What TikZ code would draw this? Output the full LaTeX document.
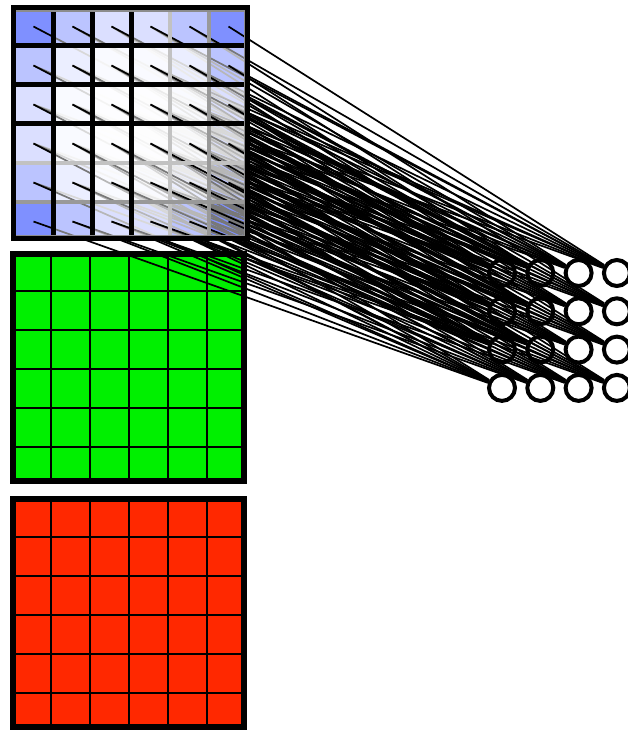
\documentclass[tikz,border=0pt]{standalone}
\begin{document}
\begin{tikzpicture}[x=1pt,y=-1pt,
  gridline/.style={black, line width=1.3pt},
  thickframe/.style={black, line width=6pt},
  neuron/.style={circle, draw=black, fill=white, line width=4pt, minimum size=26pt, inner sep=0pt},
  conn/.style={black, line width=1.7pt},
  rfpatch/.style={fill=white, fill opacity=0.47},
  sepline/.style={black, line width=5pt},
  fadedsepa/.style={black!24, line width=3.5pt},
  fadedsepb/.style={black!40, line width=3.5pt}]
\useasboundingbox (0,0) rectangle (628,730);
\definecolor{basegreen}{RGB}{0,240,0}
\definecolor{basered}{RGB}{255,40,0}
\definecolor{baseblue}{RGB}{15,46,255}

% green channel
\begin{scope}
\clip (10,251) rectangle (247,483.5);
\fill[basegreen] (12,252) rectangle (246,486);
\foreach \k in {1,...,5} {
  \draw[gridline] ({12+39*\k},252) -- ({12+39*\k},486);
  \draw[gridline] (12,{252+39*\k}) -- (246,{252+39*\k});
}
\end{scope}
\draw[thickframe] (13,254) rectangle (244,480.5);

% red channel
\begin{scope}
\clip (10,496) rectangle (247,730);
\fill[basered] (12,498) rectangle (246,732);
\foreach \k in {1,...,5} {
  \draw[gridline] ({12+39*\k},498) -- ({12+39*\k},732);
  \draw[gridline] (12,{498+39*\k}) -- (246,{498+39*\k});
}
\end{scope}
\draw[thickframe] (13,499) rectangle (244,727);

% output neurons
\foreach \r in {0,...,3} {
  \foreach \c in {0,...,3} {
    \node[neuron] (n-\r-\c) at ({502+38.3*\c},{273+38.3*\r}) {};
  }
}

% blue channel cells
\fill[baseblue] (14,7) rectangle (248,241);
\foreach \i in {0,...,5} {
  \foreach \j in {0,...,5} {
    \coordinate (b-\i-\j) at ({14+39*\j+19.5},{7+39*\i+19.5});
  }
}

% receptive fields and their connections
\foreach \r in {0,...,3} {
  \foreach \c in {0,...,3} {
    \fill[rfpatch] ({14+39*\c},{7+39*\r}) rectangle ++(117,117);
    \foreach \i in {0,1,2} {
      \foreach \j in {0,1,2} {
        \pgfmathtruncatemacro{\ii}{\r+\i}
        \pgfmathtruncatemacro{\jj}{\c+\j}
        \draw[conn] (b-\ii-\jj) -- (n-\r-\c);
      }
    }
  }
}

% blue grid separators
\draw[fadedsepa] ({14+39*4},7) -- ({14+39*4},241);
\draw[fadedsepa] (14,{7+39*4}) -- (248,{7+39*4});
\draw[fadedsepb] ({14+39*5},7) -- ({14+39*5},241);
\draw[fadedsepb] (14,{7+39*5}) -- (248,{7+39*5});
\foreach \k in {1,2,3} {
  \draw[sepline] ({14+39*\k},7) -- ({14+39*\k},241);
  \draw[sepline] (14,{7+39*\k}) -- (248,{7+39*\k});
}
\draw[black!45, line width=2.5pt] (14,11) -- (245,11) -- (245,236) -- (14,236);
\draw[black, line width=5pt] (13.5,7.5) rectangle (247.5,238.5);
\end{tikzpicture}
\end{document}
